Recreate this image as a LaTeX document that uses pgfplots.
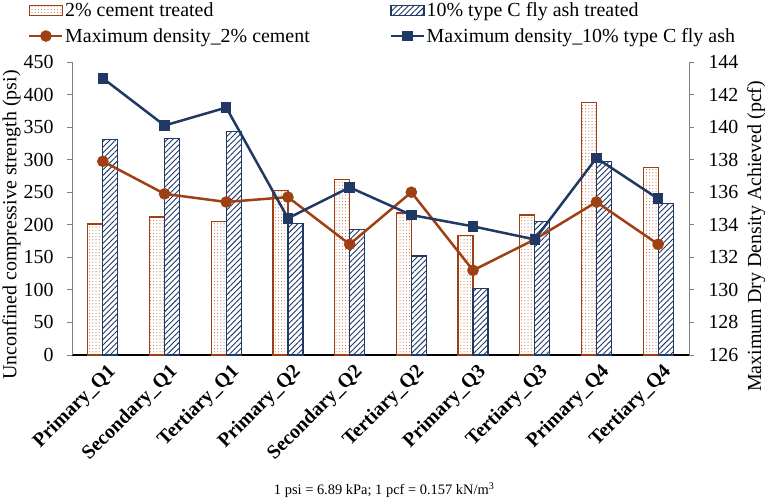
\documentclass[border=0pt]{standalone}
\usepackage{pgfplots}
\pgfplotsset{compat=1.18}
\usepackage{fontspec}
\setmainfont{Liberation Serif}
\usetikzlibrary{patterns.meta}
\definecolor{cbrown}{RGB}{158,64,20}
\definecolor{cdots}{RGB}{190,110,70}
\definecolor{cnavy}{RGB}{31,56,100}
\definecolor{cgray}{RGB}{128,128,128}
\newcommand{\bigfont}{\rmfamily\fontsize{20}{23}\selectfont}
\tikzset{
  cementbar/.style={draw=cbrown, line width=1.3bp, pattern={Dots[distance=3.2bp,radius=0.55bp]}, pattern color=cdots},
  flybar/.style={draw=cnavy, line width=1.3bp, pattern={Lines[angle=45,distance=4bp,line width=0.9bp]}, pattern color=cnavy},
}
\pgfplotsset{
  barleg/.style={legend image code/.code={\draw[##1] (0bp,-5bp) rectangle (33bp,5bp);}},
  lineleg/.style={legend image code/.code={\draw[mark repeat=2,mark phase=2,##1] plot coordinates {(0bp,0bp) (16.5bp,0bp) (33bp,0bp)};}},
  every tick label/.append style={font=\bigfont},
  every axis label/.append style={font=\bigfont},
  every axis legend/.append style={font=\bigfont},
}
\begin{document}
\begin{tikzpicture}[font=\bigfont]
\begin{axis}[
  at={(0,0)}, anchor=south west,
  scale only axis, width=617bp, height=293bp,
  xmin=-0.5, xmax=9.5, ymin=0, ymax=450,
  axis x line*=bottom, axis y line*=left,
  x axis line style={black, line width=1.3bp, -},
  y axis line style={cgray, line width=0.8bp, -},
  ytick={0,50,...,450},
  tick align=outside,
  y tick style={cgray, line width=0.8bp},
  major tick length=5bp,
  yticklabel style={xshift=-10bp},
  xtick={0,...,9},
  x tick style={draw=none},
  xticklabels={Primary\_Q1,Secondary\_Q1,Tertiary\_Q1,Primary\_Q2,Secondary\_Q2,Tertiary\_Q2,Primary\_Q3,Tertiary\_Q3,Primary\_Q4,Tertiary\_Q4},
  xticklabel style={rotate=45, anchor=north east, font=\bigfont\bfseries, inner sep=1bp, xshift=2bp, yshift=-3bp},
  /pgf/number format/assume math mode=true,
  ylabel={Unconfined compressive strength (psi)},
  ylabel style={at={(axis description cs:-0.098,0.444)}, anchor=center},
  ybar, bar width=15bp,
  clip=false,
]
\addplot[cementbar, bar shift=-7.5bp] coordinates {
(0,201) (1,212) (2,205) (3,253) (4,270) (5,218) (6,183) (7,215) (8,388) (9,288)};
\addplot[flybar, bar shift=7.5bp] coordinates {
(0,331) (1,333) (2,343) (3,202) (4,193) (5,152) (6,102) (7,205) (8,297) (9,233)};
\node[font=\rmfamily\fontsize{14.5}{17}\selectfont, anchor=center] at (axis description cs:0.506,-0.461) {1 psi = 6.89 kPa; 1 pcf = 0.157 kN/m\textsuperscript{3}};
\end{axis}
\begin{axis}[
  at={(0,0)}, anchor=south west,
  scale only axis, width=617bp, height=293bp,
  xmin=-0.5, xmax=9.5, ymin=126, ymax=144,
  axis x line=none, axis y line*=right,
  y axis line style={cgray, line width=0.8bp, -},
  ytick={126,128,...,144},
  tick align=outside,
  y tick style={cgray, line width=0.8bp},
  major tick length=5bp,
  yticklabel style={xshift=11bp},
  /pgf/number format/assume math mode=true,
  ylabel={Maximum Dry Density Achieved (pcf)},
  ylabel style={at={(axis description cs:1.109,0.405)}, anchor=center, rotate=0},
  clip=false,
  legend columns=2,
  legend cell align=left,
  legend style={draw=none, fill=none, at={(axis description cs:-0.0713,1.208)}, anchor=north west, inner sep=0pt, row sep=7bp,
    nodes={inner sep=1.5bp}},
]
\addlegendimage{cementbar, barleg}
\addlegendentry{\makebox[323bp][l]{2\% cement treated}}
\addlegendimage{flybar, barleg}
\addlegendentry{10\% type C fly ash treated}
\addplot[cbrown, line width=2.5bp, mark=*, mark size=4.5bp, mark options={fill=cbrown, draw=cbrown}, lineleg]
coordinates {(0,137.9) (1,135.9) (2,135.4) (3,135.7) (4,132.8) (5,136.0) (6,131.2) (7,133.1) (8,135.4) (9,132.8)};
\addlegendentry{\makebox[323bp][l]{Maximum density\_2\% cement}}
\addplot[cnavy, line width=2.5bp, mark=square*, mark size=4bp, mark options={fill=cnavy, draw=cnavy}, lineleg]
coordinates {(0,143.0) (1,140.1) (2,141.2) (3,134.4) (4,136.3) (5,134.6) (6,133.9) (7,133.1) (8,138.1) (9,135.6)};
\addlegendentry{Maximum density\_10\% type C fly ash}
\end{axis}
\pgfresetboundingbox
\path (-72bp,-144bp) rectangle (693bp,355bp);
\end{tikzpicture}
\end{document}
